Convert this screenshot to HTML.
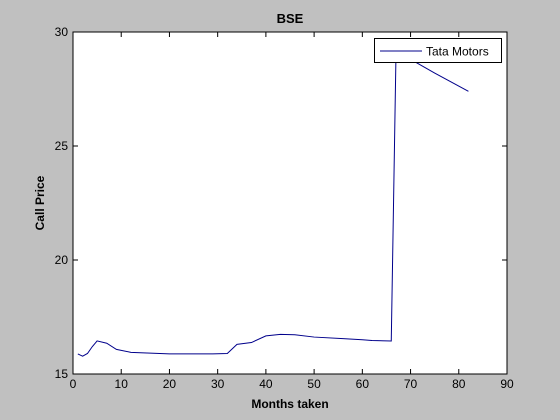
<!DOCTYPE html>
<html><head><meta charset="utf-8"><style>
body{margin:0;background:#c0c0c0;}
svg{display:block;font-family:"Liberation Sans",Arial,sans-serif;}
</style></head><body>
<svg id="chart" width="560" height="420" xmlns="http://www.w3.org/2000/svg">
<rect x="0" y="0" width="560" height="420" fill="#c0c0c0"/>
<rect x="73" y="32" width="434" height="342" fill="#fff" stroke="#000" stroke-width="1"/>
<g id="ticks"></g>
<polyline id="series" fill="none" stroke="#00008b" stroke-width="1"/>
<text x="290" y="23" font-size="13" font-weight="bold" text-anchor="middle">BSE</text>
<text x="290" y="408" font-size="12" font-weight="bold" text-anchor="middle">Months taken</text>
<text x="44" y="203" font-size="12" font-weight="bold" text-anchor="middle" transform="rotate(-90 44 203)">Call Price</text>
<g>
<rect x="374.5" y="38.5" width="127" height="24" fill="#fff" stroke="#000"/>
<line x1="380" y1="51" x2="422" y2="51" stroke="#00008b"/>
<text x="426" y="55.5" font-size="12">Tata Motors</text>
</g>
</svg>
<script>
const xTicks=[0,10,20,30,40,50,60,70,80,90];
const yTicks=[15,20,25,30];
const months=[1,2,3,4,5,7,9,12,20,29,32,34,37,40,43,46,50,56,60,62,66,67,68,70,75,82];
const prices=[15.88,15.78,15.9,16.2,16.45,16.35,16.08,15.95,15.88,15.88,15.9,16.3,16.38,16.67,16.74,16.72,16.62,16.55,16.5,16.47,16.45,29.3,29.1,28.8,28.2,27.4];
const X0=73,X1=507,Y0=374,Y1=32;
const sx=v=>X0+(v-0)/(90-0)*(X1-X0);
const sy=v=>Y0-(v-15)/(30-15)*(Y0-Y1);
const NS='http://www.w3.org/2000/svg';
const g=document.getElementById('ticks');
function mk(t,a){const e=document.createElementNS(NS,t);for(const k in a)e.setAttribute(k,a[k]);return e;}
xTicks.forEach(v=>{const x=sx(v);
 const l1=mk('line',{x1:x,y1:Y0,x2:x,y2:Y0-5,stroke:'#000'});
 
 g.appendChild(l1);
 const l2=mk('line',{x1:x,y1:Y1,x2:x,y2:Y1+5,stroke:'#000'});
 
 g.appendChild(l2);
 const t=mk('text',{x:x,y:Y0+14,'font-size':12,'text-anchor':'middle'});t.textContent=v;
 
 g.appendChild(t);});
yTicks.forEach(v=>{const y=sy(v);
 const l1=mk('line',{x1:X0,y1:y,x2:X0+5,y2:y,stroke:'#000'});
 
 g.appendChild(l1);
 const l2=mk('line',{x1:X1,y1:y,x2:X1-5,y2:y,stroke:'#000'});
 
 g.appendChild(l2);
 const t=mk('text',{x:X0-5,y:y+4,'font-size':12,'text-anchor':'end'});t.textContent=v;
 
 g.appendChild(t);});
document.getElementById('series').setAttribute('points',months.map((m,i)=>sx(m)+','+sy(prices[i])).join(' '));
</script>
</body></html>
